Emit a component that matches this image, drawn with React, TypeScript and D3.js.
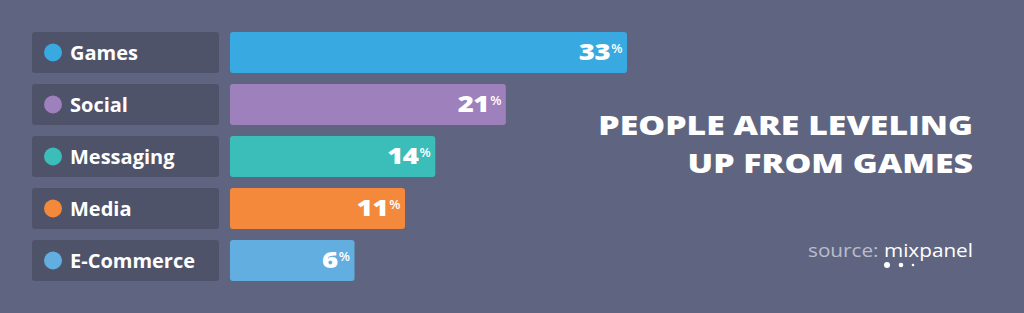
import React from "react";
import * as d3 from "d3";

const categories = ["Games", "Social", "Messaging", "Media", "E-Commerce"];
const values = [33, 21, 14, 11, 6];
const colors = ["#38a9e1", "#9d80bc", "#3bbdba", "#f4893b", "#62aee0"];
const titleLines = ["PEOPLE ARE LEVELING", "UP FROM GAMES"];

const W = 1024;
const H = 313;

export default function App() {
  const y = d3.scaleBand<string>().domain(categories).range([32, 281]).paddingInner(11 / 52).paddingOuter(0);
  const barX0 = 230;
  const x = d3.scaleLinear().domain([0, 33]).range([barX0 + 64, barX0 + 397]);
  const font = "'Open Sans', 'Liberation Sans', sans-serif";
  const sx = 1.3;
  return (
    <svg width={W} height={H} style={{ position: "absolute", left: 0, top: 0, display: "block" }}>
      <rect x={0} y={0} width={W} height={H} fill="#5f6580" />
      {categories.map((c, i) => {
        const yy = y(c)!;
        const bh = y.bandwidth();
        const xe = x(values[i]);
        return (
          <g key={c}>
            <rect x={32} y={yy} width={187} height={bh} rx={3} fill="#4f5369" />
            <circle cx={53} cy={yy + bh / 2} r={9} fill={colors[i]} />
            <text x={70} y={yy + bh / 2 + 7.5} fill="#ffffff" fontFamily={font} fontWeight={700} fontSize={20}>
              {c}
            </text>
            <rect x={barX0} y={yy} width={xe - barX0} height={bh} rx={3} fill={colors[i]} />
            <g transform={`translate(${xe - 17},${yy + bh / 2 + 7}) scale(1.2,1)`}>
              <text x={0} y={0} fill="#ffffff" fontFamily={font} fontWeight={800} fontSize={23} textAnchor="end" letterSpacing={-0.5}>
                {values[i]}
              </text>
            </g>
            <text x={xe - 4.5} y={yy + bh / 2 + 0.5} fill="#ffffff" fontFamily={font} fontWeight={600} fontSize={13} textAnchor="end">
              %
            </text>
          </g>
        );
      })}
      {titleLines.map((t, i) => (
        <g key={t} transform={`translate(973,${135 + i * 37.5}) scale(${sx},1)`}>
          <text x={0} y={0} fill="#ffffff" fontFamily={font} fontWeight={800} fontSize={26} textAnchor="end">
            {t}
          </text>
        </g>
      ))}
      <text x={808} y={257} fontFamily={font} fontSize={19} textLength={165} lengthAdjust="spacingAndGlyphs">
        <tspan fill="#b9bdcc">source: </tspan>
        <tspan fill="#ffffff">mixpanel</tspan>
      </text>
      <circle cx={887} cy={265} r={3} fill="#ffffff" />
      <circle cx={901} cy={265} r={2.3} fill="#ffffff" />
      <circle cx={913} cy={265} r={1.3} fill="#ffffff" />
    </svg>
  );
}
